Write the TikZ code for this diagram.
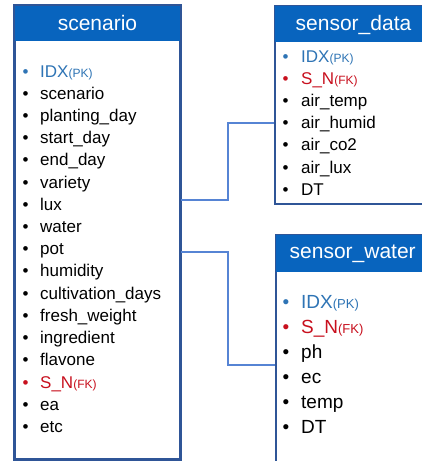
\documentclass[tikz,border=0pt]{standalone}
\usepackage{fontspec}
\setmainfont{Liberation Sans}
\definecolor{headblue}{RGB}{8,100,190}
\definecolor{edgeblue}{RGB}{47,85,151}
\definecolor{linkblue}{RGB}{86,132,212}
\definecolor{keyblue}{RGB}{46,116,181}
\definecolor{keyred}{RGB}{200,16,30}
\tikzset{
  x=1pt, y=-1pt,
  tablebody/.style={draw=edgeblue, line width=1.8pt, fill=white, inner sep=0pt},
  tablehead/.style={fill=headblue, inner sep=0pt},
  headtext/.style={text=white, inner sep=0pt, anchor=base, font=\fontsize{21}{24}\selectfont},
  field/.style={inner sep=0pt, anchor=base west, font=\fontsize{17}{20}\selectfont},
  bigfield/.style={inner sep=0pt, anchor=base west, font=\fontsize{19}{22}\selectfont},
  link/.style={draw=linkblue, line width=2.7pt},
}
\newcommand{\pk}{IDX{\fontsize{12}{14}\selectfont(PK)}}
\newcommand{\fk}{S\_N{\fontsize{12}{14}\selectfont(FK)}}
\begin{document}
\begin{tikzpicture}
\useasboundingbox (0,0) rectangle (422,461);

% ---- table frames ----
\node[tablebody, minimum width=165pt, minimum height=453pt] (scen) at (97.5,232.5) {};
\node[tablehead, minimum width=165pt, minimum height=35pt] (scenh) at (97.5,23.5) {};
\node[tablebody, minimum width=156pt, minimum height=198pt] (sdata) at (353,105) {};
\node[tablehead, minimum width=156pt, minimum height=36pt] (sdatah) at (353,24) {};
\node[tablebody, minimum width=155pt, minimum height=230pt] (swater) at (353.5,350) {};
\node[tablehead, minimum width=155pt, minimum height=37pt] (swaterh) at (353.5,253.5) {};
\draw[edgeblue, line width=1.8pt] (scen.north west) rectangle (scen.south east);

% ---- titles ----
\node[headtext] (t1) at (97.5,30) {scenario};
\node[headtext] (t2) at (353.5,30.5) {sensor\_data};
\node[headtext] (t3) at (352.7,258) {sensor\_water};

% ---- scenario fields ----
\foreach \txt [count=\k from 0] in {scenario,planting\_day,start\_day,end\_day,variety,lux,water,pot,humidity,cultivation\_days,fresh\_weight,ingredient,flavone}{
  \node[field] (sf\k) at (40,{99.2+22.2*\k}) {\txt};
  \node[field] (sb\k) at (22.5,{99.2+22.2*\k}) {•};
}
\node[field, text=keyblue] (spk) at (40,77) {\pk};
\node[field, text=keyblue] (spkb) at (22.5,77) {•};
\node[field, text=keyred] (sfk) at (40,388) {\fk};
\node[field, text=keyred] (sfkb) at (22.5,388) {•};
\node[field] (sea) at (40,410.2) {ea};
\node[field] (seab) at (22.5,410.2) {•};
\node[field] (setc) at (40,432.4) {etc};
\node[field] (setcb) at (22.5,432.4) {•};

% ---- sensor_data fields ----
\node[field, text=keyblue] (dpk) at (301,62) {\pk};
\node[field, text=keyblue] (dpkb) at (282.5,62) {•};
\node[field, text=keyred] (dfk) at (301,84.2) {\fk};
\node[field, text=keyred] (dfkb) at (282.5,84.2) {•};
\foreach \txt [count=\k from 2] in {air\_temp,air\_humid,air\_co2,air\_lux,DT}{
  \node[field] (df\k) at (301,{62+22.2*\k}) {\txt};
  \node[field] (db\k) at (282.5,{62+22.2*\k}) {•};
}

% ---- sensor_water fields ----
\node[bigfield, text=keyblue] (wpk) at (301,308) {IDX{\fontsize{13}{15}\selectfont(PK)}};
\node[bigfield, text=keyblue] (wpkb) at (282.5,308) {•};
\node[bigfield, text=keyred] (wfk) at (301,333) {S\_N{\fontsize{13}{15}\selectfont(FK)}};
\node[bigfield, text=keyred] (wfkb) at (282.5,333) {•};
\foreach \txt [count=\k from 2] in {ph,ec,temp,DT}{
  \node[bigfield] (wf\k) at (301,{308+25*\k}) {\txt};
  \node[bigfield] (wb\k) at (282.5,{308+25*\k}) {•};
}

% ---- relations ----
\coordinate (j1) at (228,200);
\coordinate (j2) at (228,252);
\draw[link] (scen.east |- j1) -- (j1) |- (sdata.west |- 0,123);
\draw[link] (scen.east |- j2) -- (j2) |- (swater.west |- 0,365);
\end{tikzpicture}
\end{document}
